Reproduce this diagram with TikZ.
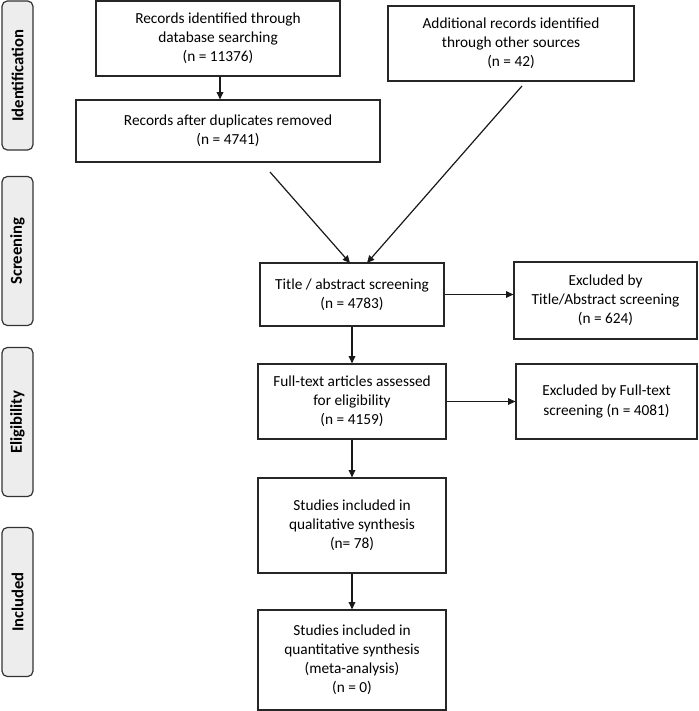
\documentclass[tikz,border=0pt]{standalone}
\usepackage{fontspec}
\setmainfont{Carlito}
\usetikzlibrary{arrows.meta}
\usetikzlibrary{calc}

\tikzset{
  box/.style={draw=black!85, line width=0.9pt, align=center, inner sep=2pt,
    font=\fontsize{11.5}{14.3}\selectfont},
  phase/.style={draw=black!80, line width=0.9pt, fill=black!7, rounded corners=4pt,
    minimum width=149*0.75pt, minimum height=31*0.75pt, rotate=90,
    font=\fontsize{12.5}{14}\selectfont\bfseries},
  arr/.style={line width=0.9pt, black!90, -{Triangle[length=5.5pt, width=5pt]}}
}

\begin{document}
\begin{tikzpicture}[x=0.75pt, y=-0.75pt]
      \useasboundingbox (0,0) rectangle (699,711);

      % phase labels
      \node[phase] (ident) at (17.5, 75.5) {Identification};
      \node[phase] (screen) at (17.5, 251) {Screening};
      \node[phase] (elig) at (17.5, 422) {Eligibility};
      \node[phase] (incl) at (17.5, 602) {Included};

      % boxes
      \node[box, minimum width=244*0.75pt, minimum height=75*0.75pt] (db) at (218, 38.5) {Records identified through\\database searching\\(n = 11376)};
      \node[box, minimum width=246*0.75pt, minimum height=75*0.75pt] (other) at (511, 43.5) {Additional records identified\\through other sources\\(n = 42)};
      \node[box, minimum width=304*0.75pt, minimum height=62*0.75pt] (dup) at (228, 131) {Records after duplicates removed\\(n = 4741)};
      \node[box, minimum width=184*0.75pt, minimum height=63*0.75pt] (title) at (352, 294.5) {Title / abstract screening\\(n = 4783)};
      \node[box, minimum width=183*0.75pt, minimum height=77*0.75pt] (excl1) at (605.5, 300.5) {Excluded by\\Title/Abstract screening\\(n = 624)};
      \node[box, minimum width=188*0.75pt, minimum height=75*0.75pt] (full) at (352, 401.5) {Full-text articles assessed\\for eligibility\\(n = 4159)};
      \node[box, minimum width=181*0.75pt, minimum height=75*0.75pt] (excl2) at (606.5, 401.5) {Excluded by Full-text\\screening (n = 4081)};
      \node[box, minimum width=188*0.75pt, minimum height=95*0.75pt] (qual) at (352, 525.5) {Studies included in\\qualitative synthesis\\(n= 78)};
      \node[box, minimum width=188*0.75pt, minimum height=100*0.75pt] (quant) at (352, 660) {Studies included in\\quantitative synthesis\\(meta-analysis)\\(n = 0)};

      \coordinate (dupout) at (270, 172);
      \coordinate (otherout) at (522, 86);
      \coordinate (titlein1) at (350, 263);
      \coordinate (titlein2) at (367, 263);

      \draw[arr] (db.south -| 220,0) -- (dup.north -| 220,0);
      \draw[arr] (dupout) -- (titlein1);
      \draw[arr] (otherout) -- (titlein2);
      \draw[arr] (title.east) -- (title.east -| excl1.west);
      \draw[arr] (title) -- (full);
      \draw[arr] (full.east) -- (excl2.west);
      \draw[arr] (full) -- (qual);
      \draw[arr] (qual) -- (quant);
    \end{tikzpicture}
\end{document}
